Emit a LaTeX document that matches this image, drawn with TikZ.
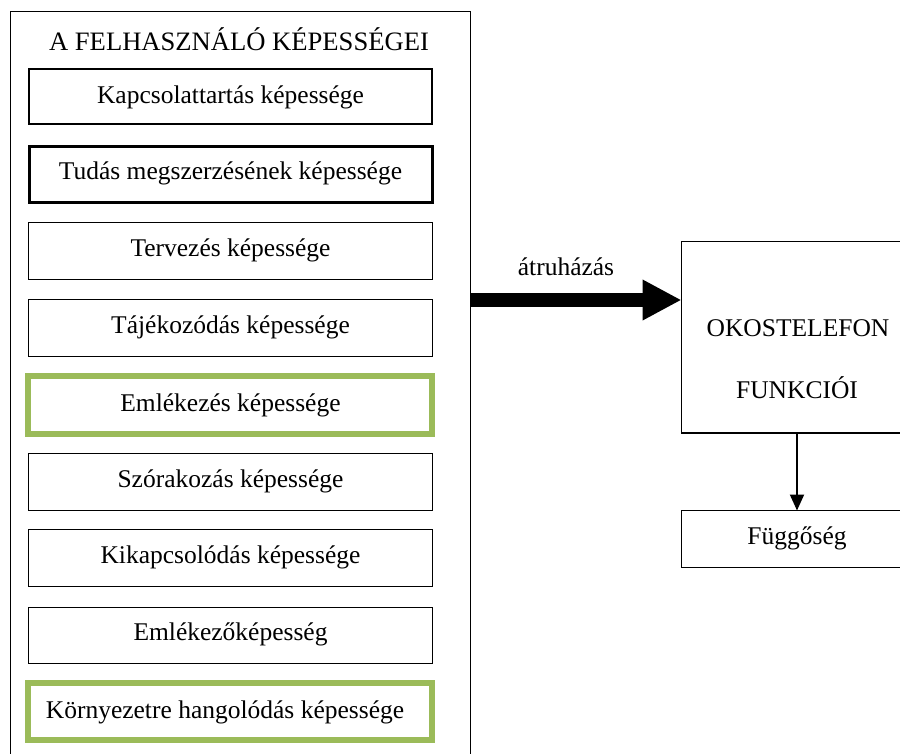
\documentclass[tikz,border=0pt]{standalone}
\usepackage{fontspec}
\setmainfont{Liberation Serif}
\usetikzlibrary{arrows.meta}
\definecolor{ogreen}{HTML}{9BBB59}
\begin{document}
\begin{tikzpicture}[x=1pt,y=-1pt,
  every node/.style={font=\fontsize{25.5}{30}\selectfont, inner sep=0pt},
  skill/.style={draw=black, line width=1.6pt},
  greenbox/.style={draw=ogreen, line width=6pt}
]
\useasboundingbox (0,0) rectangle (900,753);
\begin{scope}
\clip (0,0) rectangle (900,753);
% outer container
\draw[line width=1.6pt] (10.5,765) -- (10.5,11.5) -- (470.5,11.5) -- (470.5,765);
\node[font=\fontsize{26.6}{31}\selectfont] (title) at (239,39) {A FELHASZNÁLÓ KÉPESSÉGEI};
% skill boxes
\draw[skill, line width=2.6pt] (29,69) rectangle (432,124);
\node (k1) at (230.5,97) {Kapcsolattartás képessége};
\draw[skill, line width=3pt] (29,146) rectangle (432,202);
\node (k2) at (230.5,173) {Tudás megszerzésének képessége};
\draw[skill] (28.5,222.5) rectangle (432.5,279.5);
\node (k3) at (230.5,250) {Tervezés képessége};
\draw[skill] (28.5,299.5) rectangle (432.5,356.5);
\node (k4) at (230.5,327) {Tájékozódás képessége};
\draw[greenbox] (28,376) rectangle (432,434);
\node (k5) at (230.5,405) {Emlékezés képessége};
\draw[skill] (28.5,453.5) rectangle (432.5,510.5);
\node (k6) at (230.5,481) {Szórakozás képessége};
\draw[skill] (28.5,529.5) rectangle (432.5,586.5);
\node (k7) at (230.5,557) {Kikapcsolódás képessége};
\draw[skill] (28.5,607.5) rectangle (432.5,663.5);
\node (k8) at (230.5,634) {Emlékezőképesség};
\draw[greenbox] (28,683) rectangle (432,740);
\node (k9) at (225,712) {Környezetre hangolódás képessége};
% right boxes
\draw[line width=1.6pt] (910,241.5) -- (681.5,241.5) -- (681.5,433) -- (910,433);
\coordinate (okl) at (681.5,300);
\node (ok1) at (798,328) {OKOSTELEFON};
\node (ok2) at (797,388) {FUNKCIÓI};
\coordinate (okb) at (797,433);
\draw[line width=1.6pt] (910,510.5) -- (681.5,510.5) -- (681.5,567.5) -- (910,567.5);
\coordinate (fgt) at (797,510.5);
\node (fg) at (797,538) {Függőség};
% arrows
\coordinate (arrs) at (471,300);
\draw[line width=14pt, -{Triangle[width=38pt,length=39pt]}] (arrs) -- (okl);
\node (lab) at (566,267) {átruházás};
\draw[line width=2pt, -{Triangle[width=14pt,length=16pt]}] (okb) -- (fgt);
\end{scope}
\end{tikzpicture}
\end{document}
